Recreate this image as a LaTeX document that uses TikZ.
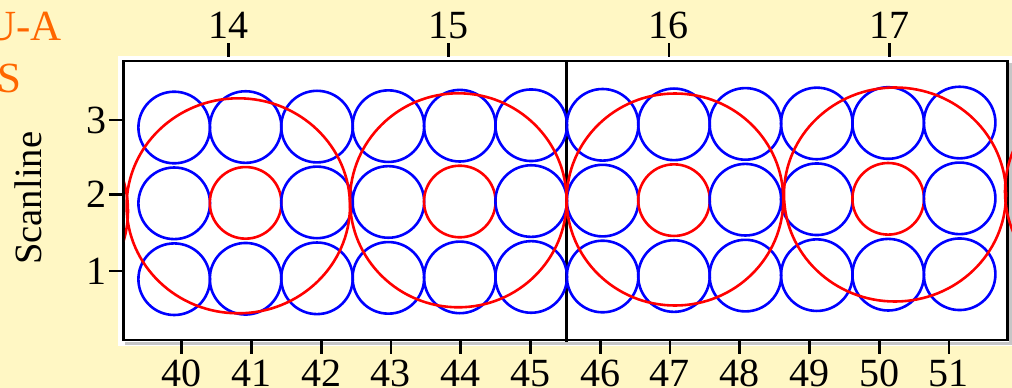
\documentclass[tikz,border=0pt]{standalone}
\usepackage{fontspec}
\setmainfont{Liberation Serif}
\definecolor{bg}{RGB}{255,247,196}
\definecolor{orng}{RGB}{255,102,0}
\definecolor{blu}{RGB}{0,0,255}
\definecolor{rd}{RGB}{255,0,0}
\begin{document}
\begin{tikzpicture}[x=1pt,y=-1pt,
  bluering/.style={draw=blu,line width=2.6pt},
  redring/.style={draw=rd,line width=2.6pt},
  axisline/.style={black,line width=2.8pt},
  ticklab/.style={font=\fontsize{40}{48}\selectfont,inner sep=0pt},
  sidelab/.style={font=\fontsize{43}{52}\selectfont,text=orng,inner sep=0pt,anchor=base east}]
\useasboundingbox (0,0) rectangle (1012,388);
\fill[bg] (0,0) rectangle (1012,388);
\fill[white] (118,56) rectangle (1012,345.5);
\draw[gray!45,line width=3pt] (125,343) -- (1010.4,343) -- (1010.4,63);
\draw[axisline] (123.5,61) rectangle (1007.7,340);
\draw[axisline] (566.7,61) -- (566.7,341.5);
\begin{scope}
  \clip (124.9,62.4) rectangle (1012,338.6);
  \foreach \i in {0,...,11} {
    \pgfmathsetmacro\cx{174.2+71.4*\i}
    \pgfmathsetmacro\ya{127.5-0.45*\i}
    \pgfmathsetmacro\yb{203.3-0.45*\i}
    \pgfmathsetmacro\yc{279.2-0.45*\i}
    \pgfmathtruncatemacro\m{mod(\i,3)}
    \draw[bluering] (\cx,\ya) circle[radius=35.8pt];
    \draw[bluering] (\cx,\yc) circle[radius=35.8pt];
    \ifnum\m=1
      \draw[redring] (\cx,\yb) circle[radius=35.8pt];
    \else
      \draw[bluering] (\cx,\yb) circle[radius=35.8pt];
    \fi
  }
  \draw[redring] (18,211) ellipse[x radius=110pt, y radius=107pt];
  \draw[redring] (238.3,205.8) ellipse[x radius=111.7pt, y radius=107.5pt];
  \draw[redring] (458.3,200.3) ellipse[x radius=108.3pt, y radius=107pt];
  \draw[redring] (675,199.5) ellipse[x radius=108.3pt, y radius=106pt];
  \draw[redring] (895,194.5) ellipse[x radius=111pt, y radius=107pt];
  \draw[redring] (1115,191.5) ellipse[x radius=110pt, y radius=107pt];
\end{scope}
% bottom axis
\foreach \k in {0,...,11} {
  \pgfmathsetmacro\tx{181.7+69.75*\k}
  \pgfmathtruncatemacro\lab{40+\k}
  \draw[axisline] (\tx,340) -- (\tx,354);
  \node[ticklab,anchor=base] (b\lab) at (\tx,386) {\lab};
}
% top axis
\foreach \k in {0,...,3} {
  \pgfmathsetmacro\tx{228.3+220.3*\k}
  \pgfmathtruncatemacro\lab{14+\k}
  \draw[axisline] (\tx,43) -- (\tx,56.5);
  \node[ticklab,anchor=base] (t\lab) at (\tx,38) {\lab};
}
% left axis
\foreach \v/\yy in {3/120,2/194.3,1/271} {
  \draw[axisline] (109,\yy) -- (121.5,\yy);
  \node[ticklab,anchor=east] (l\v) at (107,\yy) {\v};
}
\node[font=\fontsize{38.6}{46}\selectfont,rotate=90,inner sep=0pt] (ylab) at (28.5,198.3) {Scanline};
\node[sidelab] (ua) at (61.7,40) {U-A};
\node[sidelab] (s) at (22,92) {S};
\end{tikzpicture}
\end{document}
